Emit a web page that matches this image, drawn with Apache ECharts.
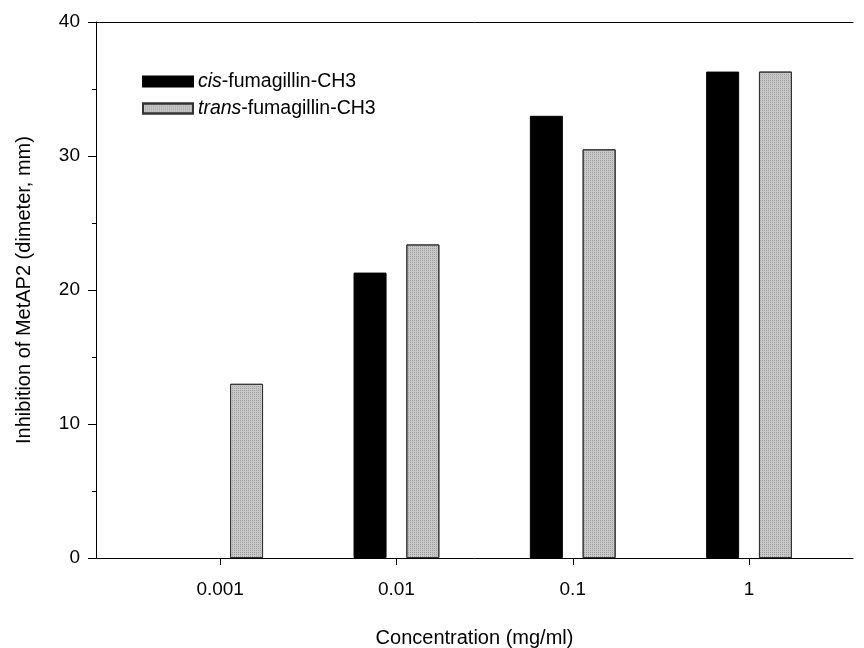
<!DOCTYPE html>
<html>
<head>
<meta charset="utf-8">
<script src="https://cdn.jsdelivr.net/npm/echarts@6/dist/echarts.min.js"></script>
<style>html,body{margin:0;padding:0;background:#fff}#c{width:864px;height:648px}</style>
</head>
<body>
<div id="c"></div>
<script>
const categories = ['0.001', '0.01', '0.1', '1'];
const cisValues = ['-', 21.3, 33.0, 36.3];
const transValues = [13.0, 23.4, 30.5, 36.3];
const yTicks = [0, 10, 20, 30, 40];
const seriesNames = ['cis-fumagillin-CH3', 'trans-fumagillin-CH3'];
const xTitle = 'Concentration (mg/ml)';
const yTitle = 'Inhibition of MetAP2 (dimeter, mm)';

const FONT = '"Liberation Sans", Arial, sans-serif';
const yMin = yTicks[0], yMax = yTicks[yTicks.length - 1];
const chart = echarts.init(document.getElementById('c'), null, {renderer: 'canvas'});

chart.setOption({
  backgroundColor: '#fff',
  animation: false,
  textStyle: {fontFamily: FONT, color: '#000'},
  grid: [
    {left: 96, right: 11, top: 22, bottom: 90, containLabel: false, outerBoundsMode: 'none'},
    {left: 132, right: 26.8, top: 22, bottom: 90, containLabel: false, outerBoundsMode: 'none'}
  ],
  legend: {
    orient: 'vertical',
    left: 137, top: 66.5,
    itemWidth: 50, itemHeight: 10, itemGap: 7,
    icon: 'rect',
    data: seriesNames,
    formatter: function (n) {
      const i = n.indexOf('-');
      return '{it|' + n.slice(0, i) + '}' + n.slice(i);
    },
    textStyle: {
      fontFamily: FONT, fontSize: 19.5, color: '#000', lineHeight: 20,
      rich: {it: {fontStyle: 'italic', fontFamily: FONT, fontSize: 19.5, color: '#000'}}
    }
  },
  xAxis: [
    {type: 'value', gridIndex: 0, min: 0, max: 1, position: 'bottom',
     axisLine: {show: true, onZero: false, lineStyle: {color: '#000', width: 1}},
     axisTick: {show: false}, axisLabel: {show: false}, splitLine: {show: false},
     name: xTitle, nameLocation: 'middle', nameGap: 70,
     nameTextStyle: {fontFamily: FONT, fontSize: 20, color: '#000'}},
    {type: 'value', gridIndex: 0, min: 0, max: 1, position: 'top',
     axisLine: {show: true, onZero: false, lineStyle: {color: '#000', width: 1}},
     axisTick: {show: false}, axisLabel: {show: false}, splitLine: {show: false}},
    {type: 'category', gridIndex: 1, data: categories, boundaryGap: true,
     axisLine: {show: false, onZero: false},
     axisTick: {show: true, alignWithLabel: true, length: 7, lineStyle: {color: '#000', width: 1}},
     axisLabel: {fontFamily: FONT, fontSize: 19, color: '#000', margin: 22},
     splitLine: {show: false}}
  ],
  yAxis: [
    {type: 'value', gridIndex: 0, min: yMin, max: yMax, interval: 10,
     axisLine: {show: true, onZero: false, lineStyle: {color: '#000', width: 1}},
     axisTick: {show: true, length: 8, lineStyle: {color: '#000', width: 1}},
     minorTick: {show: true, splitNumber: 2, length: 4, lineStyle: {color: '#000', width: 1}},
     axisLabel: {fontFamily: FONT, fontSize: 19, color: '#000', margin: 16},
     splitLine: {show: false},
     name: yTitle, nameLocation: 'middle', nameGap: 62, nameRotate: 90,
     nameTextStyle: {fontFamily: FONT, fontSize: 20, color: '#000'}},
    {type: 'value', gridIndex: 1, min: yMin, max: yMax, interval: 10, show: false}
  ],
  series: [
    {name: seriesNames[0], type: 'bar', xAxisIndex: 2, yAxisIndex: 1,
     data: cisValues, barWidth: 33, barGap: '60%',
     itemStyle: {color: '#000', borderColor: '#000', borderWidth: 1}},
    {name: seriesNames[1], type: 'bar', xAxisIndex: 2, yAxisIndex: 1,
     data: transValues, barWidth: 33, barGap: '60%',
     itemStyle: {color: '#c8c8c8', borderColor: '#333', borderWidth: 1,
       decal: {symbol: 'rect', symbolSize: 1, dashArrayX: [1, 1], dashArrayY: [1, 1], color: 'rgba(80,80,80,0.35)'}}}
  ]
});
</script>
</body>
</html>
